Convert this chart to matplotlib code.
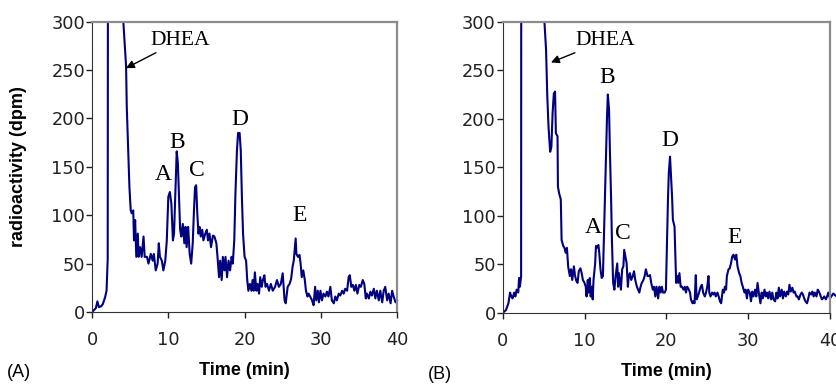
import numpy as np, matplotlib; matplotlib.use("Agg")
import matplotlib.pyplot as plt
from matplotlib.transforms import Bbox, TransformedBbox

# panel A trace (time in min, radioactivity in dpm); DHEA peak runs off scale
ta=[0,0.25,0.5,0.7,0.9,1.2,1.4,1.7,1.9,2.05,2.25,3.0,3.9,4.1,4.46,4.55,4.9,5.07,5.2,5.4,5.5,5.65,5.8,6.0,6.1,6.3,6.5,6.75,6.9,7.2,
    7.4,7.7,7.95,8.1,8.35,8.6,8.75,8.9,9.15,9.35,9.6,9.8,10.0,10.2,10.4,10.6,10.75,10.95,11.1,11.25,11.4,11.55,11.7,11.9,12.1,12.25,12.4,12.6,12.8,13.0,
    13.2,13.35,13.5,13.65,13.8,13.95,14.1,14.25,14.45,14.6,14.85,15.05,15.2,15.4,15.6,15.85,16.05,16.3,16.45,16.65,16.8,17.0,17.15,17.35,17.5,17.7,17.9,18.1,18.3,18.45,
    18.65,18.8,19.0,19.15,19.35,19.5,19.65,19.8,20.0,20.2,20.35,20.5,20.7,20.9,21.05,21.2,21.35,21.55,21.7,21.9,22.05,22.25,22.4,22.6,22.75,22.95,23.2,23.45,23.7,24.0,
    24.25,24.5,24.75,25.0,25.25,25.4,25.65,25.9,26.1,26.3,26.45,26.6,26.7,26.8,27.0,27.2,27.35,27.5,27.7,27.9,28.05,28.25,28.4,28.6,28.85,29.05,29.25,29.4,29.6,29.75,
    29.95,30.15,30.35,30.6,30.8,31.0,31.25,31.45,31.7,31.9,32.1,32.35,32.55,32.8,33.0,33.2,33.45,33.65,33.8,34.0,34.2,34.4,34.6,34.8,35.05,35.25,35.5,35.7,35.9,36.05,
    36.3,36.5,36.7,36.95,37.15,37.35,37.6,37.8,38.05,38.25,38.45,38.7,38.9,39.15,39.35,39.55,39.8,40.0]
ya=[0,2,4,11,5,6,8,15,22,55,2000,3000,1500,300,254,212,129,105,102,105,74,95,57,81,57,67,57,78,57,57,
    50,60,53,60,43,50,71,57,53,43,53,74,119,124,112,74,81,129,166,154,119,85,78,91,71,88,67,88,60,50,
    71,102,129,131,102,81,88,78,85,74,81,85,74,81,67,79,78,71,57,36,53,33,57,43,57,36,53,43,57,50,
    74,122,167,185,185,167,119,81,57,53,33,22,29,22,33,22,41,22,29,19,36,26,33,38,26,29,22,29,22,26,
    33,26,29,40,12,9,26,29,34,47,53,67,76,60,57,59,50,36,43,33,22,16,19,16,12,7,26,12,22,10,
    22,12,19,16,21,16,26,12,9,16,12,19,17,22,19,24,22,36,38,26,28,22,28,19,28,26,33,29,14,19,
    14,21,17,24,14,22,12,22,10,22,26,12,19,9,22,16,10,12]

# panel B trace
tb=[0,0.4,0.7,0.9,1.05,1.2,1.4,1.55,1.7,1.9,2.0,2.1,2.25,2.35,3.5,4.9,5.1,5.3,5.45,5.6,5.8,5.95,6.1,6.25,6.4,6.5,6.7,6.75,6.9,7.1,
    7.2,7.4,7.55,7.7,7.85,8.0,8.2,8.35,8.5,8.7,8.85,9.0,9.15,9.3,9.5,9.65,9.8,10.0,10.15,10.25,10.4,10.5,10.65,10.75,10.9,11.0,11.1,11.3,11.4,11.5,
    11.7,11.8,11.95,12.1,12.25,12.4,12.6,12.75,12.85,13.0,13.1,13.25,13.35,13.5,13.65,13.8,14.0,14.1,14.2,14.35,14.45,14.6,14.75,14.85,15.0,15.15,15.3,15.4,15.55,15.7,
    15.9,16.05,16.2,16.4,16.55,16.7,16.85,17.0,17.2,17.35,17.5,17.7,17.85,18.0,18.15,18.35,18.5,18.65,18.8,19.0,19.15,19.3,19.45,19.6,19.8,19.95,20.1,20.2,20.3,20.45,
    20.55,20.7,20.8,21.0,21.1,21.2,21.35,21.45,21.6,21.75,21.9,22.1,22.25,22.4,22.55,22.75,22.9,23.0,23.2,23.3,23.45,23.6,23.7,23.85,24.0,24.2,24.35,24.5,24.7,24.85,
    25.0,25.15,25.25,25.4,25.6,25.75,25.9,26.05,26.25,26.4,26.55,26.7,26.9,27.05,27.15,27.3,27.4,27.6,27.75,27.9,28.05,28.2,28.4,28.55,28.7,28.9,29.05,29.2,29.35,29.55,
    29.7,29.85,30.0,30.2,30.35,30.5,30.65,30.85,31.0,31.15,31.3,31.5,31.65,31.8,32.0,32.15,32.3,32.45,32.6,32.8,32.95,33.1,33.3,33.45,33.6,33.75,33.9,34.1,34.25,34.4,
    34.6,34.75,34.9,35.05,35.2,35.4,35.55,35.7,35.9,36.05,36.2,36.4,36.55,36.7,36.85,37.0,37.2,37.35,37.5,37.7,37.85,38.0,38.15,38.35,38.5,38.65,38.8,39.0,39.15,39.3,
    39.5,39.65,39.8,40.0,40.4,40.8]
yb=[0,3,10,21,17,15,21,17,24,21,36,27,38,2000,3000,1500,300,271,223,192,166,171,206,226,228,185,182,130,123,117,
    75,69,67,62,67,48,38,45,34,48,38,33,31,43,46,41,34,31,27,17,34,21,36,17,27,14,34,51,69,67,
    70,62,45,36,38,86,151,202,225,209,168,117,75,31,24,38,51,27,41,31,24,45,48,65,58,51,27,38,41,34,
    38,43,34,27,24,21,27,31,34,38,45,38,38,39,31,24,27,17,27,15,27,21,27,21,21,24,82,117,144,161,
    144,120,96,89,58,31,38,31,41,27,27,24,27,21,27,24,21,14,10,12,10,39,14,17,21,27,29,21,17,21,
    27,38,21,17,21,19,21,17,21,17,12,10,24,21,27,24,38,45,46,51,58,60,55,60,48,41,38,31,27,21,
    24,15,24,21,12,22,17,24,17,31,21,10,21,15,24,17,21,15,22,14,21,14,12,21,15,26,17,24,15,22,
    17,22,19,29,22,26,21,22,17,17,14,19,21,19,15,12,10,15,21,19,22,17,21,17,24,22,19,14,15,17,
    14,17,21,15,20,17]

peaks_a={'A':(9.3,136),'B':(11.2,169),'C':(13.7,141),'D':(19.4,193),'E':(27.15,94)}
peaks_b={'A':(11.1,82),'B':(12.8,237),'C':(14.7,76),'D':(20.4,172),'E':(28.3,72)}
dhea_a=((7.6,276),(4.45,252)); dhea_b=((8.9,276),(5.9,258))

NAVY='#000080'; SERIF=['Liberation Serif','DejaVu Serif']; SANS=['Liberation Sans','DejaVu Sans']
fig=plt.figure(figsize=(8.37,3.84),dpi=100)
axA=fig.add_axes([0.110,0.1875,0.3644,0.756]); axB=fig.add_axes([0.6006,0.185,0.391,0.7586])
for ax,t,y,pk,dh,tag in [(axA,ta,ya,peaks_a,dhea_a,'(A)'),(axB,tb,yb,peaks_b,dhea_b,'(B)')]:
    ln,=ax.plot(t,y,color=NAVY,lw=1.5)
    ln.set_clip_box(TransformedBbox(Bbox([[0,0],[1.03,1]]),ax.transAxes))
    ax.set_xlim(0,40); ax.set_ylim(0,300)
    ax.set_xticks(range(0,41,10)); ax.set_yticks(range(0,301,50))
    ax.tick_params(direction='out',length=4,width=1,colors='#222222',labelsize=12.8)
    ax.tick_params(axis='x',pad=10); ax.tick_params(axis='y',pad=1)
    for lab in ax.get_xticklabels()+ax.get_yticklabels(): lab.set_fontfamily('DejaVu Sans')
    for sp in ['left','bottom']: ax.spines[sp].set_color('#333333')
    for sp in ['top','right']: ax.spines[sp].set_color('#8c8c8c'); ax.spines[sp].set_linewidth(1.6)
    ax.set_xlabel("Time (min)",fontweight='bold',fontsize=13,family=SANS,labelpad=9)
    for k,(x,v) in pk.items(): ax.text(x,v,k,ha='center',va='baseline',fontsize=17,family=SERIF)
    ax.annotate("DHEA",xy=dh[1],xytext=dh[0],fontsize=15.5,family=SERIF,va='baseline',
                arrowprops=dict(arrowstyle='-|>',color='black',lw=1,mutation_scale=12,shrinkA=0,shrinkB=0))
    ax.text(-0.28 if ax is axA else -0.23,-0.21,tag,transform=ax.transAxes,fontsize=13,family=SANS,va='center')
axA.set_ylabel("radioactivity (dpm)",fontweight='bold',fontsize=13,family=SANS)
axA.yaxis.set_label_coords(-0.213,0.5)
fig.savefig("out.png",dpi=100)
